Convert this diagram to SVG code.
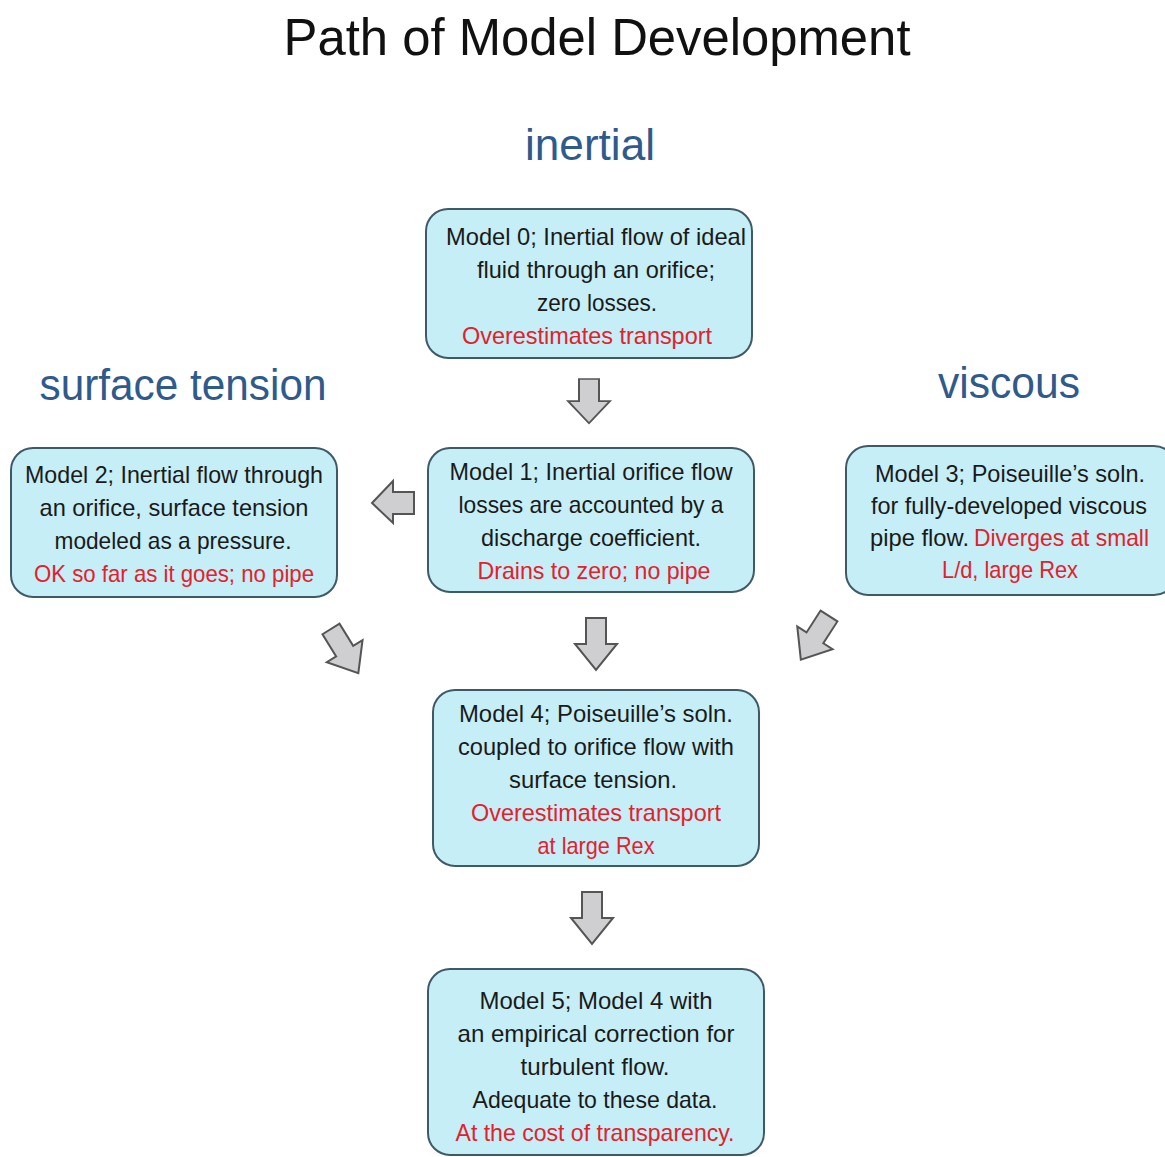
<svg xmlns="http://www.w3.org/2000/svg" width="1165" height="1157" viewBox="0 0 1165 1157">
<style>
.box{fill:#c6eef7;stroke:#3f5a66;stroke-width:2}
.t{font-family:"Liberation Sans",Arial,sans-serif;font-size:24px;fill:#1a1a1a;text-anchor:middle}
.r{fill:#e3212b}
.s{text-anchor:start}
.h{font-family:"Liberation Sans",Arial,sans-serif;font-size:44px;fill:#2f5a8c;text-anchor:middle}
.title{font-family:"Liberation Sans",Arial,sans-serif;font-size:52px;fill:#111;text-anchor:middle}
.arr{fill:#cfcfd1;stroke:#555;stroke-width:2;stroke-linejoin:miter}
</style>
<defs>
<path id="down" d="M-10,0 H10 V26 H21 L0,52 L-21,26 H-10 Z"/>
</defs>
<rect width="1165" height="1157" fill="#fff"/>
<text class="title" x="597" y="55" textLength="627" lengthAdjust="spacingAndGlyphs">Path of Model Development</text>
<text class="h" x="590" y="160" textLength="130" lengthAdjust="spacingAndGlyphs">inertial</text>
<text class="h" x="183" y="400" textLength="287" lengthAdjust="spacingAndGlyphs">surface tension</text>
<text class="h" x="1009" y="398" textLength="142" lengthAdjust="spacingAndGlyphs">viscous</text>

<g id="connectors">
<use href="#down" class="arr" transform="translate(589,379) scale(1,0.85)"/>
<path class="arr" d="M414,492 V514 H393 V523 L372,503 L393,481 V492 Z"/>
<use href="#down" class="arr" transform="translate(596,618)"/>
<use href="#down" class="arr" transform="translate(331,629) rotate(-31.7)"/>
<use href="#down" class="arr" transform="translate(829,616) rotate(32.8)"/>
<use href="#down" class="arr" transform="translate(592,892)"/>
</g>

<g id="model0">
<rect class="box" x="426" y="209" width="326" height="149" rx="22"/>
<text class="t" x="596" y="245" textLength="300" lengthAdjust="spacingAndGlyphs">Model  0; Inertial flow of ideal</text>
<text class="t" x="596" y="278" textLength="238" lengthAdjust="spacingAndGlyphs">fluid through an orifice;</text>
<text class="t" x="597" y="311" textLength="120" lengthAdjust="spacingAndGlyphs">zero losses.</text>
<text class="t r" x="587" y="344" textLength="250" lengthAdjust="spacingAndGlyphs">Overestimates transport</text>
</g>

<g id="model2">
<rect class="box" x="11" y="448" width="326" height="149" rx="22"/>
<text class="t" x="174" y="483" textLength="298" lengthAdjust="spacingAndGlyphs">Model 2; Inertial flow through</text>
<text class="t" x="174" y="516" textLength="269" lengthAdjust="spacingAndGlyphs">an orifice,  surface tension</text>
<text class="t" x="173" y="549" textLength="237" lengthAdjust="spacingAndGlyphs">modeled as a pressure.</text>
<text class="t r" x="174" y="582" textLength="280" lengthAdjust="spacingAndGlyphs">OK so far as it goes; no pipe</text>
</g>

<g id="model1">
<rect class="box" x="428" y="448" width="326" height="144" rx="22"/>
<text class="t" x="591" y="480" textLength="283" lengthAdjust="spacingAndGlyphs">Model 1; Inertial orifice flow</text>
<text class="t" x="591" y="513" textLength="265" lengthAdjust="spacingAndGlyphs">losses are accounted by a</text>
<text class="t" x="591" y="546" textLength="220" lengthAdjust="spacingAndGlyphs">discharge coefficient.</text>
<text class="t r" x="594" y="579" textLength="233" lengthAdjust="spacingAndGlyphs">Drains to zero;  no pipe</text>
</g>

<g id="model3">
<rect class="box" x="846" y="446" width="330" height="149" rx="22"/>
<text class="t" x="1010" y="482" textLength="270" lengthAdjust="spacingAndGlyphs">Model  3; Poiseuille’s soln.</text>
<text class="t" x="1009" y="514" textLength="276" lengthAdjust="spacingAndGlyphs">for fully-developed viscous</text>
<text class="t s" x="870" y="546" textLength="99" lengthAdjust="spacingAndGlyphs">pipe flow.</text>
<text class="t r s" x="974" y="546" textLength="175" lengthAdjust="spacingAndGlyphs">Diverges at small</text>
<text class="t r" x="1010" y="578" textLength="136" lengthAdjust="spacingAndGlyphs">L/d, large Rex</text>
</g>

<g id="model4">
<rect class="box" x="433" y="690" width="326" height="176" rx="22"/>
<text class="t" x="596" y="722" textLength="274" lengthAdjust="spacingAndGlyphs">Model  4;  Poiseuille’s soln.</text>
<text class="t" x="596" y="755" textLength="276" lengthAdjust="spacingAndGlyphs">coupled to orifice flow with</text>
<text class="t" x="593" y="788" textLength="168" lengthAdjust="spacingAndGlyphs">surface tension.</text>
<text class="t r" x="596" y="821" textLength="250" lengthAdjust="spacingAndGlyphs">Overestimates transport</text>
<text class="t r" x="596" y="854" textLength="117" lengthAdjust="spacingAndGlyphs">at large Rex</text>
</g>

<g id="model5">
<rect class="box" x="428" y="969" width="336" height="186" rx="22"/>
<text class="t" x="596" y="1009" textLength="233" lengthAdjust="spacingAndGlyphs">Model  5;  Model 4 with</text>
<text class="t" x="596" y="1042" textLength="277" lengthAdjust="spacingAndGlyphs">an empirical  correction for</text>
<text class="t" x="595" y="1075" textLength="149" lengthAdjust="spacingAndGlyphs">turbulent flow.</text>
<text class="t" x="595" y="1108" textLength="245" lengthAdjust="spacingAndGlyphs">Adequate to these data.</text>
<text class="t r" x="595" y="1141" textLength="279" lengthAdjust="spacingAndGlyphs">At the cost of transparency.</text>
</g>
</svg>
